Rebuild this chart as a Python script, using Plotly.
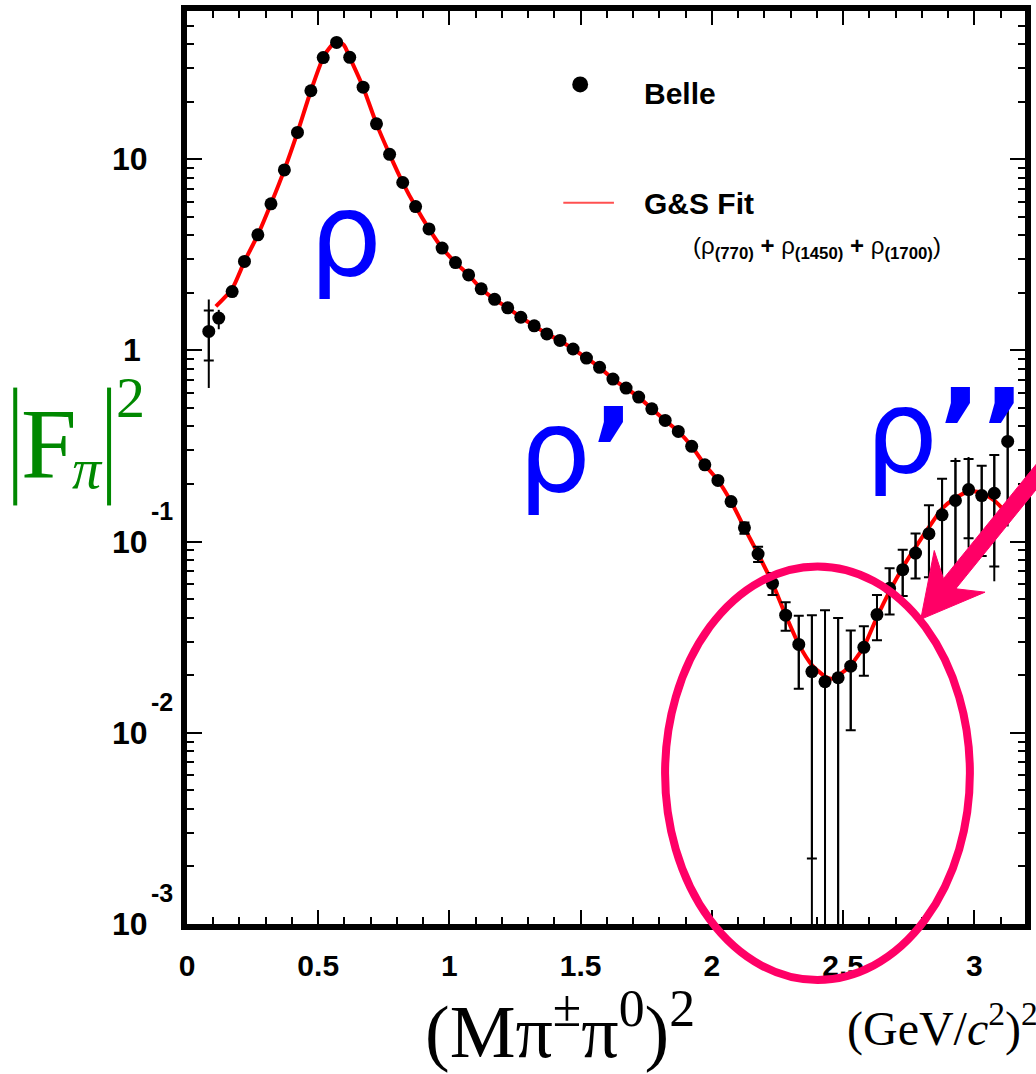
import math
import plotly.graph_objects as go

# ---------------- data ----------------
x_data = [0.083, 0.121, 0.172, 0.219, 0.270, 0.320, 0.371, 0.421, 0.472, 0.519,
          0.570, 0.620, 0.671, 0.722, 0.772, 0.822, 0.871, 0.922, 0.972, 1.023,
          1.073, 1.121, 1.172, 1.222, 1.272, 1.323, 1.371, 1.421, 1.471, 1.522,
          1.572, 1.623, 1.673, 1.721, 1.771, 1.822, 1.872, 1.923, 1.973, 2.023,
          2.073, 2.124, 2.176, 2.231, 2.281, 2.331, 2.381, 2.431, 2.481, 2.529,
          2.579, 2.629, 2.677, 2.727, 2.776, 2.827, 2.877, 2.928, 2.978, 3.028,
          3.076, 3.127]
y_data = [1.256, 1.475, 2.03, 2.92, 4.02, 5.84, 8.79, 13.8, 22.8, 34.0,
          40.8, 34.1, 23.8, 15.3, 10.6, 7.55, 5.65, 4.32, 3.43, 2.88,
          2.48, 2.10, 1.85, 1.67, 1.49, 1.345, 1.22, 1.127, 1.017, 0.912,
          0.815, 0.708, 0.635, 0.570, 0.495, 0.430, 0.377, 0.315, 0.252, 0.209,
          0.162, 0.118, 0.0861, 0.0605, 0.0412, 0.0290, 0.0209, 0.0185, 0.0194, 0.0223,
          0.0280, 0.0415, 0.0570, 0.0713, 0.0871, 0.110, 0.138, 0.164, 0.187, 0.174,
          0.179, 0.334]
stat_plus = [0.36, 0.0] + [0.0] * 39 + [
    0.008, 0.008, 0.008, 0.007, 0.012, 0.0203, 0.0253, 0.0204, 0.012,
    0.0081, 0.011, 0.0155, 0.0193, 0.023, 0.045, 0.075, 0.10, 0.083, 0.075,
    0.105, 0.20]
stat_minus = [0.37, 0.0] + [0.0] * 39 + [
    0.008, 0.008, 0.008, 0.007, 0.012, 0.0187, 0.0253, 0.0204, 0.012,
    0.0081, 0.011, 0.0155, 0.0193, 0.023, 0.045, 0.075, 0.10, 0.083, 0.09,
    0.105, 0.20]
tot_plus = [0.59, 0.155] + [0.0] * 39 + [
    0.008, 0.008, 0.008, 0.007, 0.012, 0.0203, 0.0253, 0.0204, 0.012,
    0.0081, 0.011, 0.0155, 0.0193, 0.023, 0.045, 0.075, 0.11, 0.09, 0.075,
    0.105, 0.20]
tot_minus = [0.62, 0.185] + [0.0] * 39 + [
    0.008, 0.008, 0.008, 0.007, 0.012, 0.03, 0.0253, 0.0204, 0.012,
    0.0081, 0.011, 0.0155, 0.0193, 0.023, 0.045, 0.075, 0.11, 0.094, 0.09,
    0.117, 0.214]

x_fit = [0.11, 0.172, 0.219, 0.270, 0.320, 0.371, 0.421, 0.472, 0.519, 0.547,
         0.573, 0.598, 0.620, 0.671, 0.722, 0.772, 0.822, 0.871, 0.922, 0.972,
         1.023, 1.073, 1.121, 1.172, 1.222, 1.272, 1.323, 1.371, 1.421, 1.471,
         1.522, 1.572, 1.623, 1.673, 1.721, 1.771, 1.822, 1.872, 1.923, 1.973,
         2.023, 2.073, 2.124, 2.176, 2.231, 2.281, 2.331, 2.381, 2.431, 2.456,
         2.481, 2.529, 2.579, 2.629, 2.679, 2.728, 2.775, 2.829, 2.878, 2.928,
         2.978, 3.028, 3.078, 3.113]
y_fit = [1.70, 2.10, 2.92, 4.02, 5.84, 8.79, 13.8, 22.8, 34.0, 38.8,
         41.7, 39.5, 34.1, 23.8, 15.3, 10.6, 7.55, 5.65, 4.32, 3.43,
         2.88, 2.48, 2.10, 1.85, 1.67, 1.49, 1.345, 1.22, 1.127, 1.017,
         0.912, 0.815, 0.708, 0.635, 0.570, 0.495, 0.430, 0.377, 0.315, 0.252,
         0.209, 0.162, 0.118, 0.0861, 0.0605, 0.0412, 0.0290, 0.0226, 0.0197, 0.0192,
         0.0199, 0.0226, 0.0282, 0.0403, 0.0556, 0.0735, 0.0929, 0.120, 0.149, 0.169,
         0.183, 0.180, 0.163, 0.146]

x_tickvals = [0, 0.5, 1, 1.5, 2, 2.5, 3]
x_ticktext = ["0", "0.5", "1", "1.5", "2", "2.5", "3"]
y_tickvals = [0.001, 0.01, 0.1, 1, 10]
y_tick_base = ["10", "10", "10", "1", "10"]
y_tick_exp = ["-3", "-2", "-1", "", ""]

# ---------------- geometry helpers ----------------
W, H = 1036, 1074
L, R, T, B = 187, 5, 10, 150
PW = W - L - R
PH = H - T - B


def px(x):
    return (x - L) / PW


def py(y):
    return (H - B - y) / PH


PINK = "#ff0066"
GREEN = "#008800"
SANS = "Liberation Sans, Arial, sans-serif"
BOLD = dict(family=SANS, size=30, color="black", weight="bold")

fig = go.Figure()

fig.add_trace(go.Scatter(
    x=x_fit, y=y_fit, mode="lines",
    line=dict(color="#ff0000", width=4, shape="spline", smoothing=0.6),
    showlegend=False, hoverinfo="skip"))

fig.add_trace(go.Scatter(
    x=x_data, y=y_data, mode="markers",
    marker=dict(color="black", size=13),
    error_y=dict(type="data", symmetric=False, array=tot_plus, arrayminus=tot_minus,
                 color="black", thickness=2, width=0),
    showlegend=False))

fig.add_trace(go.Scatter(
    x=x_data, y=y_data, mode="markers",
    marker=dict(color="black", size=1, opacity=0),
    error_y=dict(type="data", symmetric=False, array=stat_plus, arrayminus=stat_minus,
                 color="black", thickness=2, width=5),
    showlegend=False, hoverinfo="skip"))

axis_common = dict(showline=True, linewidth=6, linecolor="black", mirror="allticks",
                   ticks="inside", tickwidth=2, tickcolor="black",
                   showgrid=False, zeroline=False)

fig.update_layout(
    width=W, height=H,
    margin=dict(l=L, r=R, t=T, b=B, pad=0),
    paper_bgcolor="white", plot_bgcolor="white",
    xaxis=dict(range=[0, 3.193], tickvals=x_tickvals, ticktext=x_ticktext,
               ticklen=14, tickfont=BOLD, ticklabelstandoff=10,
               minor=dict(ticks="inside", ticklen=7, tickwidth=2, tickcolor="black", dtick=0.1,
                          showgrid=False),
               **axis_common),
    yaxis=dict(type="log", range=[-3, 1.775], tickvals=y_tickvals, showticklabels=False,
               ticklen=15,
               minor=dict(ticks="inside", ticklen=7, tickwidth=2, tickcolor="black",
                          tickvals=[m * 10 ** e for e in range(-3, 2) for m in range(2, 10)],
                          showgrid=False),
               **axis_common),
)

ann = []
# y tick labels
for v, base, ex in zip(y_tickvals, y_tick_base, y_tick_exp):
    right = 150 if base == "10" else 143
    ann.append(dict(x=px(right), y=math.log10(v), xref="paper", yref="y",
                    text="<b>%s</b>" % base, showarrow=False, xanchor="right", yanchor="middle",
                    font=dict(BOLD, size=32)))
    if ex:
        ann.append(dict(x=px(149), y=math.log10(v), xref="paper", yref="y", yshift=31,
                        text="<b>%s</b>" % ex, showarrow=False, xanchor="left", yanchor="middle",
                        font=dict(BOLD, size=25)))

# legend
ann.append(dict(x=px(645), y=py(93), xref="paper", yref="paper", text="<b>Belle</b>",
                showarrow=False, xanchor="left", yanchor="middle", font=BOLD))
ann.append(dict(x=px(645), y=py(203), xref="paper", yref="paper", text="<b>G&amp;S Fit</b>",
                showarrow=False, xanchor="left", yanchor="middle", font=BOLD))
ann.append(dict(x=px(695), y=py(247), xref="paper", yref="paper",
                text="(ρ<sub><b>(770)</b></sub> <b>+</b> ρ<sub><b>(1450)</b></sub> <b>+</b> ρ<sub><b>(1700)</b></sub>)",
                showarrow=False, xanchor="left", yanchor="middle",
                font=dict(family=SANS, size=24, color="black")))

# resonance labels
RHO = dict(family="DejaVu Sans, sans-serif", size=115, color="#0000ff")
ann.append(dict(x=px(347), y=py(234), xref="paper", yref="paper", text="ρ",
                showarrow=False, xanchor="center", yanchor="middle", font=RHO))
ann.append(dict(x=px(579), y=py(450), xref="paper", yref="paper", text="ρ<b>’</b>",
                showarrow=False, xanchor="center", yanchor="middle", font=RHO))
ann.append(dict(x=px(950), y=py(431), xref="paper", yref="paper", text="ρ<b>’’</b>",
                showarrow=False, xanchor="center", yanchor="middle", font=RHO))

# axis titles
SERIF = "Liberation Serif, Times New Roman, serif"
ann.append(dict(x=px(425), y=py(1027), xref="paper", yref="paper",
                text="(Mπ<sup>±</sup>π<sup>0</sup>)<sup>2</sup>",
                showarrow=False, xanchor="left", yanchor="middle",
                font=dict(family=SERIF, size=74, color="black")))
ann.append(dict(x=px(850), y=py(1026), xref="paper", yref="paper",
                text="(GeV/<i>c</i><sup>2</sup>)<sup>2</sup>",
                showarrow=False, xanchor="left", yanchor="middle",
                font=dict(family=SERIF, size=48, color="black")))
ann.append(dict(x=px(48), y=py(443), xref="paper", yref="paper", text="F",
                showarrow=False, xanchor="center", yanchor="middle",
                font=dict(family=SERIF, size=100, color=GREEN)))
ann.append(dict(x=px(87), y=py(468), xref="paper", yref="paper", text="<i>π</i>",
                showarrow=False, xanchor="center", yanchor="middle",
                font=dict(family=SERIF, size=58, color=GREEN)))
ann.append(dict(x=px(130), y=py(397), xref="paper", yref="paper", text="2",
                showarrow=False, xanchor="center", yanchor="middle",
                font=dict(family=SERIF, size=58, color=GREEN)))

fig.update_layout(annotations=ann)

# shapes: legend symbols, |..| bars, ellipse, arrow
shapes = []
shapes.append(dict(type="circle", xref="paper", yref="paper",
                   x0=px(575), x1=px(591), y0=py(91.5), y1=py(75.5),
                   fillcolor="black", line=dict(width=0)))
shapes.append(dict(type="line", xref="paper", yref="paper",
                   x0=px(566), x1=px(617), y0=py(202), y1=py(202),
                   line=dict(color="#ff5050", width=2)))
for bx in (14, 108.5):
    shapes.append(dict(type="line", xref="paper", yref="paper",
                       x0=px(bx), x1=px(bx), y0=py(387), y1=py(505),
                       line=dict(color=GREEN, width=4)))
shapes.append(dict(type="circle", xref="paper", yref="paper",
                   x0=px(668.5), x1=px(975.5), y0=py(980), y1=py(566),
                   line=dict(color=PINK, width=8)))

# arrow polygon
tip = (926.0, 619.0)
u = (0.632, -0.775)
n = (0.775, 0.632)


def pt(t, s):
    return (tip[0] + t * u[0] + s * n[0], tip[1] + t * u[1] + s * n[1])


poly = [pt(0, 0), pt(62, -33), pt(46, -8), pt(250, -8), pt(250, 8), pt(46, 8), pt(62, 33)]
path = "M " + " L ".join("%.5f,%.5f" % (px(a), py(b)) for a, b in poly) + " Z"
shapes.append(dict(type="path", xref="paper", yref="paper", path=path,
                   fillcolor=PINK, line=dict(color=PINK, width=1)))
fig.update_layout(shapes=shapes)

fig.write_html("out.html")
